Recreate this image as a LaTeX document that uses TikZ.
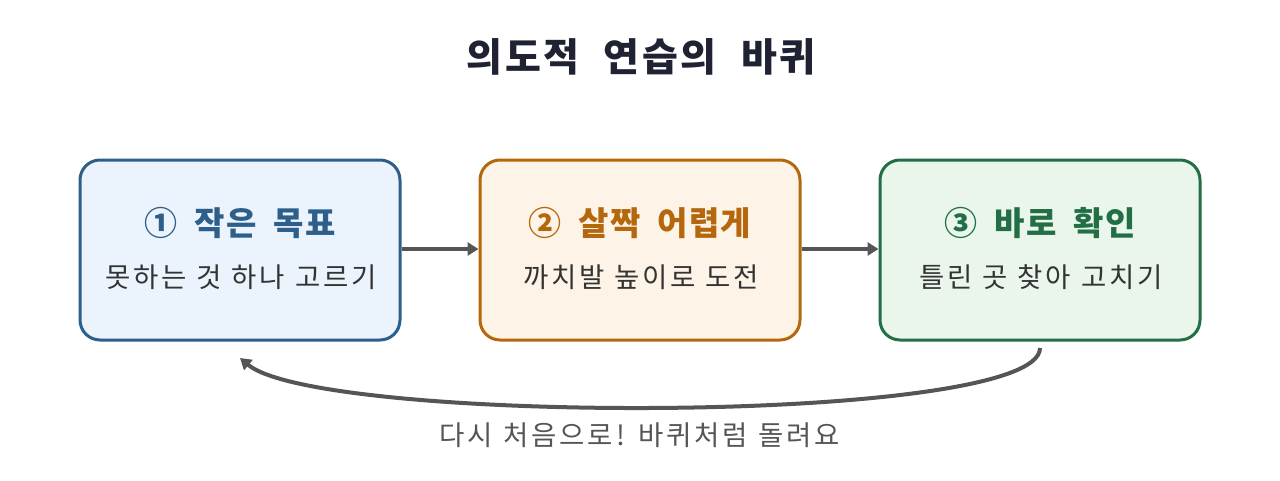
\documentclass[tikz,border=0pt]{standalone}
\usepackage{fontspec}
\setmainfont{Noto Sans CJK KR}
\newfontfamily\fTitle{Noto Sans CJK KR}[LetterSpace=6,WordSpace=2.2]
\newfontfamily\fHead{Noto Sans CJK KR}[LetterSpace=4,WordSpace=1.9]
\newfontfamily\fSub{Noto Sans CJK KR}[LetterSpace=10,WordSpace=2.2]
\newfontfamily\fBot{Noto Sans CJK KR}[LetterSpace=10,WordSpace=1.1]
\usetikzlibrary{arrows.meta}
\definecolor{titlec}{HTML}{1F2233}
\definecolor{bA}{HTML}{2E5E8A}\definecolor{fA}{HTML}{EBF4FC}
\definecolor{bB}{HTML}{B5670E}\definecolor{fB}{HTML}{FDF3E6}
\definecolor{bC}{HTML}{226E45}\definecolor{fC}{HTML}{EAF6EC}
\definecolor{lineg}{HTML}{555555}
\definecolor{subc}{HTML}{333333}
\tikzset{
  card/.style={draw, line width=3pt, rounded corners=20pt, minimum width=320pt, minimum height=180pt, inner sep=0pt},
  head/.style={font=\fHead\fontsize{33}{38}\selectfont\bfseries},
  sub/.style={font=\fSub\fontsize{27.5}{32}\selectfont, text=subc},
  conn/.style={draw=lineg, line width=4pt, -{Triangle[length=11pt,width=13pt]}},
}
\begin{document}
\begin{tikzpicture}[x=1pt,y=-1pt]
\useasboundingbox (0,0) rectangle (1280,480);
\node[font=\fTitle\fontsize{39}{44}\selectfont\bfseries, text=titlec] (title) at (641,57) {의도적 연습의 바퀴};
\node[card, draw=bA, fill=fA] (c1) at (240,250) {};
\node[card, draw=bB, fill=fB] (c2) at (640,250) {};
\node[card, draw=bC, fill=fC] (c3) at (1040,250) {};
\node[head, text=bA] (h1) at (240,223) {① 작은 목표};
\node[sub] (s1) at (241,277) {못하는 것 하나 고르기};
\node[head, text=bB] (h2) at (640,223) {② 살짝 어렵게};
\node[sub] (s2) at (641,277) {까치발 높이로 도전};
\node[head, text=bC] (h3) at (1040,223) {③ 바로 확인};
\node[sub] (s3) at (1041,277) {틀린 곳 찾아 고치기};
\draw[conn] (c1.east) ++(0,-1) -- (c2.west |- 0,249);
\draw[conn] (c2.east) ++(0,-1) -- (c3.west |- 0,249);
\coordinate (st) at (1040,348);
\coordinate (en) at (240,358);
\draw[conn] (st) .. controls (1040,425) and (320,425) .. (en);
\node[font=\fBot\fontsize{27.5}{32}\selectfont, text=lineg] (bl) at (640,435) {다시 처음으로! 바퀴처럼 돌려요};
\end{tikzpicture}
\end{document}
